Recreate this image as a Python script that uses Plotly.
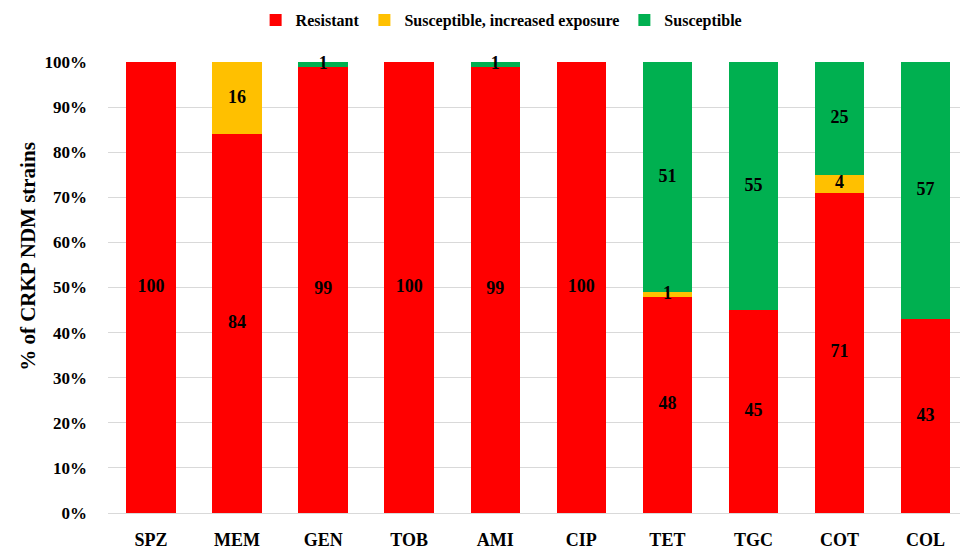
import plotly.graph_objects as go

# Antibiotics tested
antibiotics = ["SPZ", "MEM", "GEN", "TOB", "AMI", "CIP", "TET", "TGC", "COT", "COL"]

# Percentage of strains in each susceptibility category
resistant = [100, 84, 99, 100, 99, 100, 48, 45, 71, 43]
increased_exposure = [0, 16, 0, 0, 0, 0, 1, 0, 4, 0]
susceptible = [0, 0, 1, 0, 1, 0, 51, 55, 25, 57]

series = [
    ("Resistant", resistant, "#FF0000"),
    ("Susceptible, increased exposure", increased_exposure, "#FFC000"),
    ("Susceptible", susceptible, "#00B050"),
]

FONT = "Liberation Serif"

fig = go.Figure()
for name, values, color in series:
    fig.add_trace(go.Bar(
        name=name,
        x=antibiotics,
        y=values,
        marker=dict(color=color, line=dict(width=0)),
        hoverinfo="skip",
    ))

# Segment labels, placed at the middle of each stacked segment and drawn
# above all bars so that thin segments keep a readable label
label_x, label_y, label_text = [], [], []
base = [0] * len(antibiotics)
for _, values, _ in series:
    for i, v in enumerate(values):
        if v > 0:
            label_x.append(antibiotics[i])
            label_y.append(base[i] + v / 2)
            label_text.append(str(v))
        base[i] += v

fig.add_trace(go.Scatter(
    x=label_x,
    y=label_y,
    text=label_text,
    mode="text",
    textposition="middle center",
    textfont=dict(family=FONT, size=18, color="black", weight="bold"),
    cliponaxis=False,
    showlegend=False,
    hoverinfo="skip",
))

fig.update_layout(
    barmode="stack",
    bargap=0.425,
    width=960,
    height=549,
    margin=dict(l=108, r=0, t=62, b=36),
    plot_bgcolor="white",
    paper_bgcolor="white",
    font=dict(family=FONT, color="black", weight="bold"),
    legend=dict(
        orientation="h",
        x=0.462,
        xanchor="center",
        y=1.093,
        yanchor="middle",
        font=dict(family=FONT, size=16, color="black", weight="bold"),
        itemwidth=30,
        traceorder="normal",
    ),
    xaxis=dict(
        range=[-0.5, 9.4],
        showgrid=False,
        showline=False,
        ticks="",
        tickfont=dict(family=FONT, size=18, weight="bold"),
        ticklabelstandoff=14,
    ),
    yaxis=dict(
        range=[0, 100],
        tickvals=list(range(0, 101, 10)),
        ticktext=[f"{v}%" for v in range(0, 101, 10)],
        showgrid=True,
        gridcolor="#D9D9D9",
        gridwidth=1,
        zeroline=True,
        zerolinecolor="#D9D9D9",
        zerolinewidth=1,
        showline=False,
        ticks="",
        tickfont=dict(family=FONT, size=17, weight="bold"),
        ticklabelstandoff=20,
    ),
    annotations=[dict(
        text="% of CRKP NDM strains",
        textangle=-90,
        xref="paper", yref="paper",
        x=-0.094, xanchor="center",
        y=0.57, yanchor="middle",
        showarrow=False,
        font=dict(family=FONT, size=21, color="black", weight="bold"),
    )],
)

fig.write_html("out.html")
